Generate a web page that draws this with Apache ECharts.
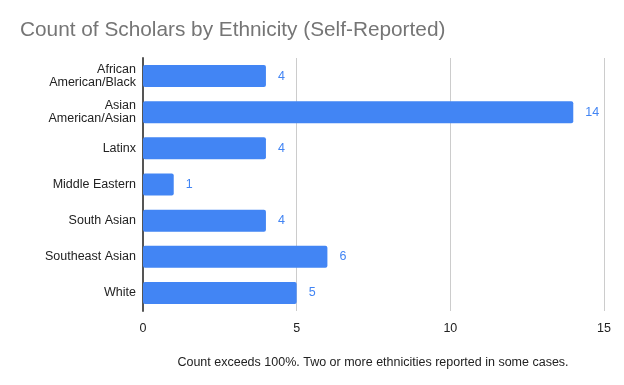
<!DOCTYPE html>
<html><head><meta charset="utf-8">
<script src="https://cdn.jsdelivr.net/npm/echarts@6/dist/echarts.min.js"></script>
<style>html,body{margin:0;padding:0;background:#fff}#c{width:624px;height:385px}</style>
</head><body><div id="c"></div>
<script>
const categories = ["African\nAmerican/Black","Asian\nAmerican/Asian","Latinx","Middle Eastern","South Asian","Southeast Asian","White"];
const counts = [4,14,4,1,4,6,5];
const xTicks = [0,5,10,15];
const titleText = "Count of Scholars by Ethnicity (Self-Reported)";
const noteText = "Count exceeds 100%. Two or more ethnicities reported in some cases.";

const chart = echarts.init(document.getElementById('c'), null, {renderer:'canvas'});
chart.setOption({
  animation:false,
  textStyle:{fontFamily:'Liberation Sans, Arial, sans-serif'},
  title:[{text:titleText,left:15,top:15,textStyle:{fontSize:20.8,fontWeight:'normal',color:'#757575',fontFamily:'Liberation Sans, Arial, sans-serif'}},
         {text:noteText,left:368,textAlign:'center',top:351,textStyle:{fontSize:12.5,fontWeight:'normal',color:'#222',fontFamily:'Liberation Sans, Arial, sans-serif'}}],
  grid:{left:143,right:20,top:58,bottom:74,containLabel:false},
  xAxis:{type:'value',min:xTicks[0],max:xTicks[xTicks.length-1],interval:5,
    axisLine:{show:false},axisTick:{show:false},
    splitLine:{lineStyle:{color:'#cccccc',width:1}},
    axisLabel:{color:'#222',fontSize:12.5,margin:11}},
  yAxis:{type:'category',data:categories,inverse:true,
    axisLine:{show:true,lineStyle:{color:'#555',width:2}},axisTick:{show:false},
    axisLabel:{color:'#222',fontSize:12.5,margin:7,lineHeight:13}},
  series:[{type:'bar',data:counts,barWidth:22,
    itemStyle:{color:'#4285F4',borderRadius:2},
    label:{show:true,position:'right',distance:12,color:'#4285F4',fontSize:12.5}}]
});
</script></body></html>
